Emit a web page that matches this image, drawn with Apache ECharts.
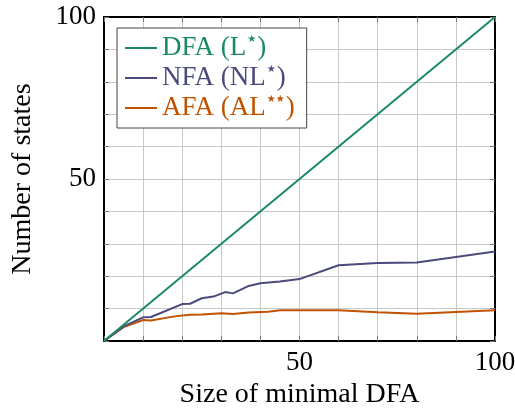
<!DOCTYPE html>
<html>
<head>
<meta charset="utf-8">
<script src="https://cdn.jsdelivr.net/npm/echarts@6/dist/echarts.min.js"></script>
<style>html,body{margin:0;padding:0;background:#fff}#c{width:515px;height:416px}</style>
</head>
<body>
<div id="c"></div>
<script>
const seriesNames = ['DFA', 'NFA', 'AFA'];
const dfa = [[0, 0], [100, 100]];
const nfa = [[0, 0], [5, 4.5], [10, 7.3], [12, 7.4], [20, 11.4], [22, 11.5], [25, 13.2], [28, 13.7], [31, 15.1], [33, 14.7], [37, 17.0], [40, 17.8], [45, 18.4], [50, 19.1], [60, 23.4], [70, 24.1], [80, 24.2], [100, 27.6]];
const afa = [[0, 0], [5, 4.3], [10, 6.5], [12, 6.3], [18, 7.6], [22, 8.1], [25, 8.2], [30, 8.6], [33, 8.3], [37, 8.8], [42, 9.0], [45, 9.5], [50, 9.5], [60, 9.5], [70, 8.9], [80, 8.4], [100, 9.5]];
const xTickLabels = [50, 100];
const yTickLabels = [50, 100];
const legendLabels = ['DFA (L{s|★})', 'NFA (NL{s|★})', 'AFA (AL{s|★★})'];

const colors = ['#1b8a64', '#4b4a7e', '#c05200'];
const font = 'Liberation Serif';
const chart = echarts.init(document.getElementById('c'));

function axisBase(type, pos, showLabels, labels) {
  return {
    type: 'value', position: pos, min: 0, max: 100, interval: 10,
    axisLine: { show: true, onZero: false, lineStyle: { color: '#000', width: 2 } },
    axisTick: { show: true, inside: true, length: 5, lineStyle: { color: '#777', width: 1 } },
    splitLine: { show: showLabels, lineStyle: { color: '#c8c8c8', width: 1 } },
    axisLabel: {
      show: showLabels, fontFamily: font, fontSize: 27, color: '#000',
      margin: 8,
      formatter: v => labels.indexOf(v) >= 0 ? String(v) : ''
    }
  };
}

const legendData = seriesNames.map((n, i) => ({
  name: n,
  textStyle: {
    color: colors[i],
    rich: { s: { color: colors[i], fontFamily: 'DejaVu Sans', fontSize: 10, verticalAlign: 'top', padding: [0, 1, 10, 1] } }
  }
}));

chart.setOption({
  animation: false,
  grid: { left: 104, right: 20, top: 17, bottom: 75, outerBoundsMode: 'none' },
  legend: {
    orient: 'vertical', left: 117, top: 28,
    data: legendData,
    formatter: name => legendLabels[seriesNames.indexOf(name)],
    icon: 'rect',
    itemWidth: 32, itemHeight: 2, itemGap: 2,
    padding: [6, 12, 6, 8],
    backgroundColor: '#fff', borderColor: '#444', borderWidth: 1,
    textStyle: { fontFamily: font, fontSize: 27, lineHeight: 28 }
  },
  xAxis: [
    Object.assign(axisBase('x', 'bottom', true, xTickLabels), {
      name: 'Size of minimal DFA', nameLocation: 'middle', nameGap: 40,
      nameTextStyle: { fontFamily: font, fontSize: 28, color: '#000' }
    }),
    axisBase('x', 'top', false, [])
  ],
  yAxis: [
    Object.assign(axisBase('y', 'left', true, yTickLabels), {
      name: 'Number of states', nameLocation: 'middle', nameGap: 67,
      nameTextStyle: { fontFamily: font, fontSize: 28, color: '#000' }
    }),
    axisBase('y', 'right', false, [])
  ],
  series: [dfa, nfa, afa].map((d, i) => ({
    name: seriesNames[i], type: 'line', data: d, xAxisIndex: 0, yAxisIndex: 0,
    symbol: 'none', showSymbol: false, z: 3 - i + 2,
    lineStyle: { color: colors[i], width: 2 }, itemStyle: { color: colors[i] }
  }))
});
</script>
</body>
</html>
